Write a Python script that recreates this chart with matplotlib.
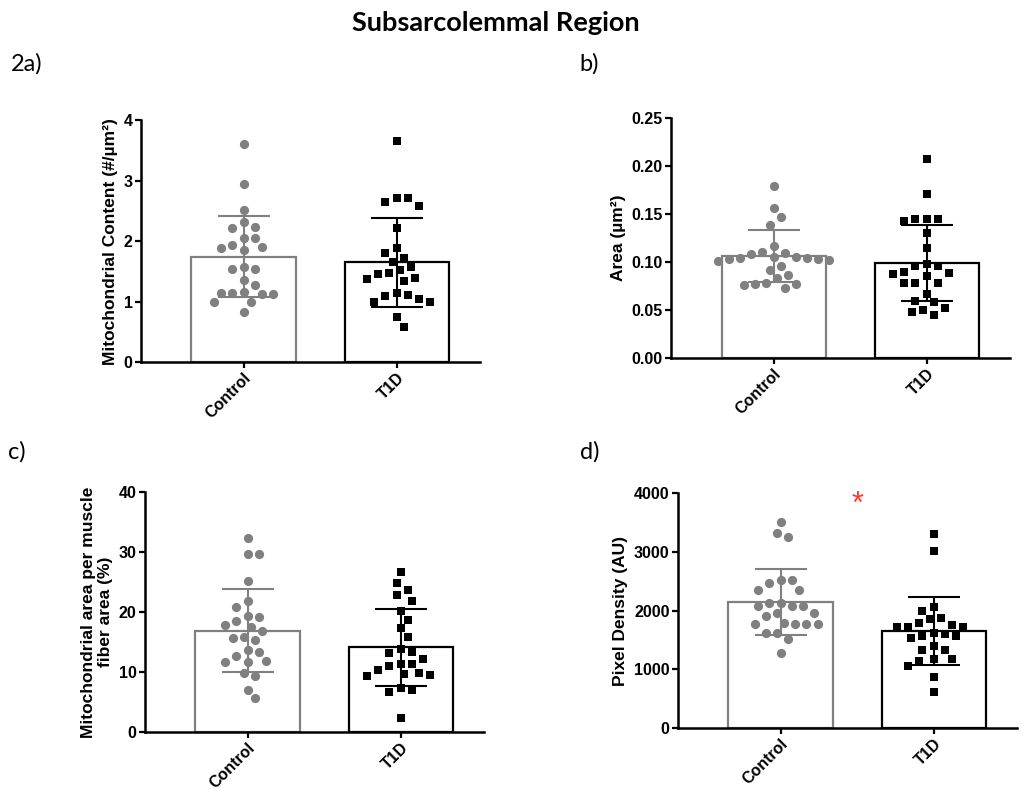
import numpy as np
import matplotlib
matplotlib.use('Agg')
import matplotlib.pyplot as plt
from matplotlib.ticker import FormatStrFormatter

groups = ['Control', 'T1D']

# 2a) mitochondrial content
a_ctrl = [3.60, 2.95, 2.52, 2.31, 2.21, 2.24, 2.05, 2.05, 1.93, 1.88, 1.85, 1.91, 1.54,
          1.54, 1.58, 1.28, 1.35, 1.15, 1.12, 1.12, 1.15, 1.16, 1.00, 1.00, 0.83]
a_t1d = [3.66, 2.71, 2.65, 2.58, 2.71, 2.21, 1.88, 1.81, 1.72, 1.66, 1.57, 1.47, 1.39,
         1.34, 1.37, 1.45, 1.52, 1.14, 1.09, 1.00, 1.00, 1.05, 1.11, 0.74, 0.58]
a_mean = [1.74, 1.65]
a_sd = [0.67, 0.74]

# b) area
b_ctrl = [0.179, 0.156, 0.147, 0.139, 0.117, 0.110, 0.108, 0.109, 0.104, 0.102, 0.105,
          0.103, 0.105, 0.101, 0.104, 0.103, 0.096, 0.092, 0.086, 0.083, 0.077, 0.078,
          0.076, 0.077, 0.073]
b_t1d = [0.207, 0.171, 0.145, 0.145, 0.143, 0.145, 0.130, 0.115, 0.098, 0.096, 0.096,
         0.089, 0.085, 0.088, 0.090, 0.078, 0.078, 0.078, 0.067, 0.059, 0.058, 0.050,
         0.045, 0.048, 0.052]
b_mean = [0.106, 0.099]
b_sd = [0.027, 0.040]

# c) mitochondrial area per fiber area
c_ctrl = [32.4, 29.7, 29.7, 25.1, 21.8, 20.9, 19.3, 19.1, 18.5, 17.8, 17.5, 16.8, 15.6,
          15.3, 15.9, 13.3, 13.6, 12.6, 11.7, 11.9, 11.6, 9.9, 9.3, 7.0, 5.6]
c_t1d = [26.7, 24.9, 23.7, 22.8, 21.9, 20.1, 18.7, 17.3, 15.9, 13.8, 13.2, 13.3, 12.2,
         11.4, 11.0, 11.4, 10.4, 9.6, 9.3, 9.5, 9.8, 7.0, 6.6, 7.3, 2.4]
c_mean = [16.9, 14.1]
c_sd = [6.9, 6.4]

# d) pixel density
d_ctrl = [3511, 3256, 3324, 2519, 2519, 2349, 2349, 2463, 2133, 2133, 2077, 2077, 2077,
          1952, 1906, 1952, 1770, 1775, 1775, 1775, 1792, 1622, 1622, 1510, 1271]
d_t1d = [3296, 3012, 2054, 2000, 1880, 1793, 1725, 1725, 1725, 1760, 1850, 1600, 1571,
         1571, 1620, 1540, 1328, 1400, 1169, 1146, 1180, 1050, 873, 618, 1320]
d_mean = [2150, 1650]
d_sd = [560, 580]

panels = [
    dict(rect=[0.1374, 0.548, 0.3304, 0.302], ctrl=a_ctrl, t1d=a_t1d, mean=a_mean, sd=a_sd,
         ylim=4, yticks=[0, 1, 2, 3, 4], fmt='%d',
         ylabel='Mitochondrial Content (#/µm²)'),
    dict(rect=[0.654, 0.553, 0.3304, 0.2996], ctrl=b_ctrl, t1d=b_t1d, mean=b_mean, sd=b_sd,
         ylim=0.25, yticks=[0, 0.05, 0.10, 0.15, 0.20, 0.25], fmt='%.2f',
         ylabel='Area (µm²)'),
    dict(rect=[0.1413, 0.0861, 0.3304, 0.2996], ctrl=c_ctrl, t1d=c_t1d, mean=c_mean, sd=c_sd,
         ylim=40, yticks=[0, 10, 20, 30, 40], fmt='%d',
         ylabel='Mitochondrial area per muscle\nfiber area (%)'),
    dict(rect=[0.6608, 0.0911, 0.3304, 0.2934], ctrl=d_ctrl, t1d=d_t1d, mean=d_mean, sd=d_sd,
         ylim=4000, yticks=[0, 1000, 2000, 3000, 4000], fmt='%d',
         ylabel='Pixel Density (AU)'),
]

GREY = '#808080'
colors = [GREY, 'black']
markers = ['o', 's']


def swarm(ax, x0, vals, diam=11.0, step=3.7):
    # simple beeswarm in pixel space
    tr = ax.transData
    pts = tr.transform(np.column_stack([np.full(len(vals), x0), vals]))
    ypx = pts[:, 1]
    xc0 = pts[0, 0]
    order = np.argsort(-ypx)
    placed = []
    xs = np.zeros(len(vals))
    cands = [0]
    for j in range(1, 40):
        cands += [j, -j]
    for n, i in enumerate(order):
        sign = 1 if n % 2 == 0 else -1
        for c in cands:
            xc = xc0 + sign * c * step
            if all((xc - px) ** 2 + (ypx[i] - py) ** 2 >= diam ** 2 for px, py in placed):
                break
        placed.append((xc, ypx[i]))
        xs[i] = xc
    back = tr.inverted().transform(np.column_stack([xs, ypx]))
    return back[:, 0]


fig = plt.figure(figsize=(10.26, 8.01), dpi=100)
plt.rcParams['font.family'] = 'Liberation Sans'

axes = []
for p in panels:
    ax = fig.add_axes(p['rect'])
    ax.set_xlim(-0.67, 1.545)
    ax.set_ylim(0, p['ylim'])
    for k in range(2):
        ax.bar(k, p['mean'][k], width=0.68, facecolor='white', edgecolor=colors[k],
               linewidth=1.6, zorder=1)
    for k, vals in enumerate([p['ctrl'], p['t1d']]):
        xs = swarm(ax, k, vals)
        ax.scatter(xs, vals, marker=markers[k], s=44 if k == 0 else 38, color=colors[k],
                   linewidths=0, zorder=2, clip_on=False)
        ax.errorbar(k, p['mean'][k], yerr=p['sd'][k], color=colors[k], capsize=19,
                    elinewidth=1.5, capthick=1.5, zorder=3)
    ax.spines['top'].set_visible(False)
    ax.spines['right'].set_visible(False)
    ax.spines['left'].set_linewidth(1.8)
    ax.spines['bottom'].set_linewidth(1.8)
    ax.set_yticks(p['yticks'])
    ax.yaxis.set_major_formatter(FormatStrFormatter(p['fmt']))
    ax.set_xticks([0, 1])
    ax.set_xticklabels(groups, rotation=45, ha='right', rotation_mode='anchor',
                       fontweight='bold', fontsize=11.5)
    ax.tick_params(axis='both', width=1.6, length=4, labelsize=11.5, pad=2)
    for t in ax.get_yticklabels():
        t.set_fontweight('bold')
    ax.set_ylabel(p['ylabel'], fontsize=12.5, fontweight='bold', labelpad=4,
                  multialignment='center')
    axes.append(ax)

# significance star
axes[3].text(0.5, 3800, '*', color='#ff3b2f', fontsize=22, ha='center', va='center')

fig.text(0.483, 0.971, 'Subsarcolemmal Region', family='Lato', fontweight='bold',
         fontsize=19.5, ha='center', va='center')
fig.text(0.011, 0.920, '2a)', family='Lato', fontsize=17, va='center')
fig.text(0.565, 0.920, 'b)', family='Lato', fontsize=17, va='center')
fig.text(0.008, 0.436, 'c)', family='Lato', fontsize=17, va='center')
fig.text(0.565, 0.436, 'd)', family='Lato', fontsize=17, va='center')

fig.savefig('out.png', dpi=100)
